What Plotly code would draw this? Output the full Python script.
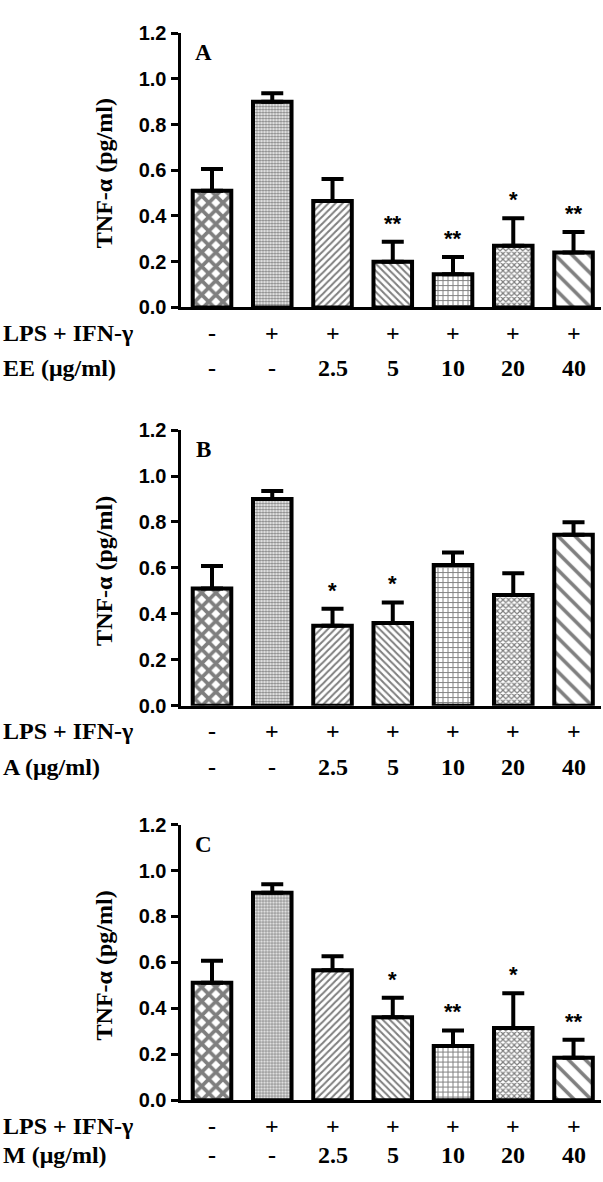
import plotly.graph_objects as go

# ---- data ----
categories = [0, 1, 2, 3, 4, 5, 6]
lps_row = ["-", "+", "+", "+", "+", "+", "+"]
dose_row = ["-", "-", "2.5", "5", "10", "20", "40"]
panel_letters = ["A", "B", "C"]
dose_labels = ["EE (μg/ml)", "A (μg/ml)", "M (μg/ml)"]

means_A = [0.51, 0.90, 0.465, 0.20, 0.145, 0.27, 0.24]
upper_A = [0.605, 0.937, 0.562, 0.287, 0.220, 0.390, 0.330]
stars_A = ["", "", "", "**", "**", "*", "**"]

means_B = [0.51, 0.90, 0.348, 0.360, 0.613, 0.482, 0.744]
upper_B = [0.608, 0.935, 0.422, 0.450, 0.667, 0.577, 0.799]
stars_B = ["", "", "*", "*", "", "", ""]

means_C = [0.512, 0.903, 0.566, 0.362, 0.236, 0.315, 0.185]
upper_C = [0.607, 0.940, 0.627, 0.446, 0.304, 0.466, 0.264]
stars_C = ["", "", "", "*", "**", "*", "**"]

yticks = [0.0, 0.2, 0.4, 0.6, 0.8, 1.0, 1.2]
ytick_text = ["0.0", "0.2", "0.4", "0.6", "0.8", "1.0", "1.2"]

panels = [(means_A, upper_A, stars_A), (means_B, upper_B, stars_B), (means_C, upper_C, stars_C)]

# ---- styling ----
W, H = 603, 1182
pat_shapes = ["x", ".", "/", "\\", "+", "x", "\\"]
pat_sizes = [10, 3, 5, 5, 5, 4, 12]
pat_solid = [0.6, 0.5, 0.4, 0.4, 0.35, 0.5, 0.3]

# pixel layout (top of 1.2, bottom 0.0) for each panel
y_pix = [(22.5, 302), (427, 708), (829, 1110)]
x_pix = (180.5, 601)
serif = "Liberation Serif"
sans = "Liberation Sans"
txt = dict(family=serif, size=24, color="black")

fig = go.Figure()
annotations = []

for i, (means, upper, stars) in enumerate(panels):
    n = "" if i == 0 else str(i + 1)
    xa, ya = "x" + n, "y" + n
    plus = [u - m for u, m in zip(upper, means)]
    fig.add_trace(go.Bar(
        x=categories, y=means, xaxis=xa, yaxis=ya, width=0.64,
        marker=dict(color="white", line=dict(color="black", width=4),
                    pattern=dict(shape=pat_shapes, size=pat_sizes, solidity=pat_solid,
                                 fgcolor="black", bgcolor="white", fillmode="overlay")),
        error_y=dict(type="data", symmetric=False, array=plus, arrayminus=[0] * 7,
                     color="black", thickness=4, width=11),
        showlegend=False, hoverinfo="skip",
    ))
    top, bot = y_pix[i]
    dom = [1 - bot / H, 1 - top / H]
    fig.update_layout(**{
        ("xaxis" + n): dict(domain=[x_pix[0] / W, x_pix[1] / W], range=[-0.523, 6.456],
                            showline=True, linewidth=3, linecolor="black",
                            showticklabels=False, ticks="", showgrid=False, zeroline=False,
                            anchor=ya, fixedrange=True),
        ("yaxis" + n): dict(domain=dom, range=[0, 1.2], tickvals=yticks, ticktext=ytick_text,
                            showline=True, linewidth=3, linecolor="black",
                            ticks="outside", ticklen=7, tickwidth=3, tickcolor="black",
                            tickfont=dict(family=sans, size=20, color="black", weight="bold"),
                            showgrid=False, zeroline=False, anchor=xa, fixedrange=True),
    })
    # stars
    for c, s, u in zip(categories, stars, upper):
        if s:
            annotations.append(dict(x=c, y=u, xref=xa, yref=ya, text="<b>%s</b>" % s,
                                    showarrow=False, yanchor="bottom", yshift=4,
                                    font=dict(family=sans, size=22, color="black")))
    # panel letter
    annotations.append(dict(x=203.5 / W, y=1 - (top + 20) / H, xref="paper", yref="paper",
                            text="<b>%s</b>" % panel_letters[i], showarrow=False,
                            xanchor="center", yanchor="middle",
                            font=dict(family=serif, size=23, color="black")))
    # y title
    annotations.append(dict(x=104 / W, y=1 - ((top + bot) / 2 + 3) / H, xref="paper", yref="paper",
                            text="<b>TNF-α (pg/ml)</b>", showarrow=False, textangle=-90,
                            xanchor="center", yanchor="middle",
                            font=dict(family=serif, size=24, color="black")))
    # row labels
    row1_y = 1 - (bot + 26) / H
    row2_y = 1 - min(bot + 62, H - 16) / H
    annotations.append(dict(x=1 / W, y=row1_y, xref="paper", yref="paper",
                            text="<b>LPS + IFN-γ</b>", showarrow=False,
                            xanchor="left", yanchor="middle", font=txt))
    annotations.append(dict(x=1 / W, y=row2_y, xref="paper", yref="paper",
                            text="<b>%s</b>" % dose_labels[i], showarrow=False,
                            xanchor="left", yanchor="middle", font=txt))
    for c, a, b in zip(categories, lps_row, dose_row):
        annotations.append(dict(x=c, y=row1_y, xref=xa, yref="paper", text="<b>%s</b>" % a,
                                showarrow=False, xanchor="center", yanchor="middle", font=txt))
        annotations.append(dict(x=c, y=row2_y, xref=xa, yref="paper", text="<b>%s</b>" % b,
                                showarrow=False, xanchor="center", yanchor="middle", font=txt))

fig.update_layout(width=W, height=H, margin=dict(l=0, r=0, t=0, b=0),
                  plot_bgcolor="white", paper_bgcolor="white", annotations=annotations)

fig.write_html("out.html", config={"displayModeBar": False},
               post_script="document.body.style.margin='0';")
